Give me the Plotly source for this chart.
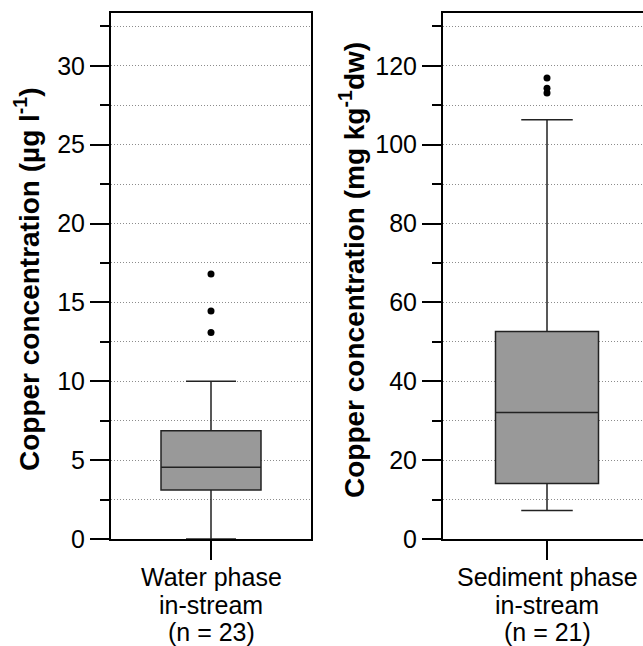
import plotly.graph_objects as go
from plotly.subplots import make_subplots

# ---- data ----
categories = ["Water phase<br>in-stream<br>(n = 23)", "Sediment phase<br>in-stream<br>(n = 21)"]
q1_vals = [3.1, 14.1]
median_vals = [4.55, 32.1]
q3_vals = [6.87, 52.6]
lower_whisker = [0.0, 7.2]
upper_whisker = [10.0, 106.3]
water_outliers = [13.1, 14.45, 16.8]
sediment_outliers = [113.1, 114.3, 116.9]
outliers = [water_outliers, sediment_outliers]
y_titles = ["Copper concentration (µg l<sup>-1</sup>)",
            "Copper concentration (mg kg<sup>-1</sup>dw)"]
y_ticks_major = [[0, 5, 10, 15, 20, 25, 30], [0, 20, 40, 60, 80, 100, 120]]

W, H = 643, 646
FONT = "Liberation Sans"

fig = make_subplots(rows=1, cols=2)

box_widths = [1.0, 1.03]
for i in range(2):
    fig.add_trace(go.Box(
        x=[categories[i]], q1=[q1_vals[i]], median=[median_vals[i]], q3=[q3_vals[i]],
        lowerfence=[lower_whisker[i]], upperfence=[upper_whisker[i]],
        width=box_widths[i], whiskerwidth=0.5,
        fillcolor="#999999", line=dict(color="#222222", width=1.5),
        boxpoints=False, showlegend=False, hoverinfo="skip"),
        row=1, col=i + 1)
    fig.add_trace(go.Scatter(
        x=[categories[i]] * len(outliers[i]), y=outliers[i], mode="markers",
        marker=dict(color="black", size=7), showlegend=False, hoverinfo="skip"),
        row=1, col=i + 1)

GRID = dict(gridcolor="#8c8c8c", gridwidth=1, griddash="1px,2px")
common_y = dict(
    showline=True, linecolor="black", linewidth=2,
    ticks="outside", ticklen=19, tickwidth=2, tickcolor="black",
    tickfont=dict(family=FONT, size=25, color="black"),
    showgrid=True, zeroline=False, automargin=False, **GRID,
)
fig.update_yaxes(**common_y, range=[0, 33.35], tickvals=y_ticks_major[0],
                 minor=dict(dtick=2.5, tick0=0, ticks="outside", ticklen=9, tickwidth=2,
                            tickcolor="black", showgrid=True, **GRID),
                 mirror=True, row=1, col=1)
fig.update_yaxes(**common_y, range=[0, 133.4], tickvals=y_ticks_major[1],
                 minor=dict(dtick=10, tick0=0, ticks="outside", ticklen=9, tickwidth=2,
                            tickcolor="black", showgrid=True, **GRID),
                 mirror=False, row=1, col=2)

common_x = dict(
    type="category", showline=True, linecolor="black", linewidth=2, mirror=True,
    ticks="outside", ticklen=19, tickwidth=2, tickcolor="black",
    showticklabels=False, showgrid=False, zeroline=False, automargin=False,
)
fig.update_xaxes(**common_x, range=[-1, 1], domain=[111 / W, 311 / W], row=1, col=1)
fig.update_xaxes(**common_x, range=[-1.04, 0.96], domain=[443 / W, 1.0], row=1, col=2)

top, bottom = 13, 539
plot_h = bottom - top

# category labels (one line per annotation, to match the tight line spacing)
line_centers = [577, 604.5, 632]
for i, cat in enumerate(categories):
    for j, part in enumerate(cat.split("<br>")):
        fig.add_annotation(
            text=part, xref="x" if i == 0 else "x2", x=cat, yref="paper",
            y=(bottom - line_centers[j]) / plot_h, xanchor="center", yanchor="middle",
            showarrow=False, font=dict(family=FONT, size=25, color="black"))

for xpx, ypx, txt in [(27, 279, y_titles[0]), (352, 270, y_titles[1])]:
    fig.add_annotation(
        text=txt, xref="paper", yref="paper", x=xpx / W, y=(bottom - ypx) / plot_h,
        xanchor="center", yanchor="middle", textangle=-90, showarrow=False,
        font=dict(family=FONT, size=28, color="black", weight="bold"))

fig.update_layout(
    width=W, height=H,
    margin=dict(l=0, r=0, t=top, b=H - bottom, autoexpand=False),
    paper_bgcolor="white", plot_bgcolor="white",
    font=dict(family=FONT, color="black"),
)

fig.write_html("out.html")
